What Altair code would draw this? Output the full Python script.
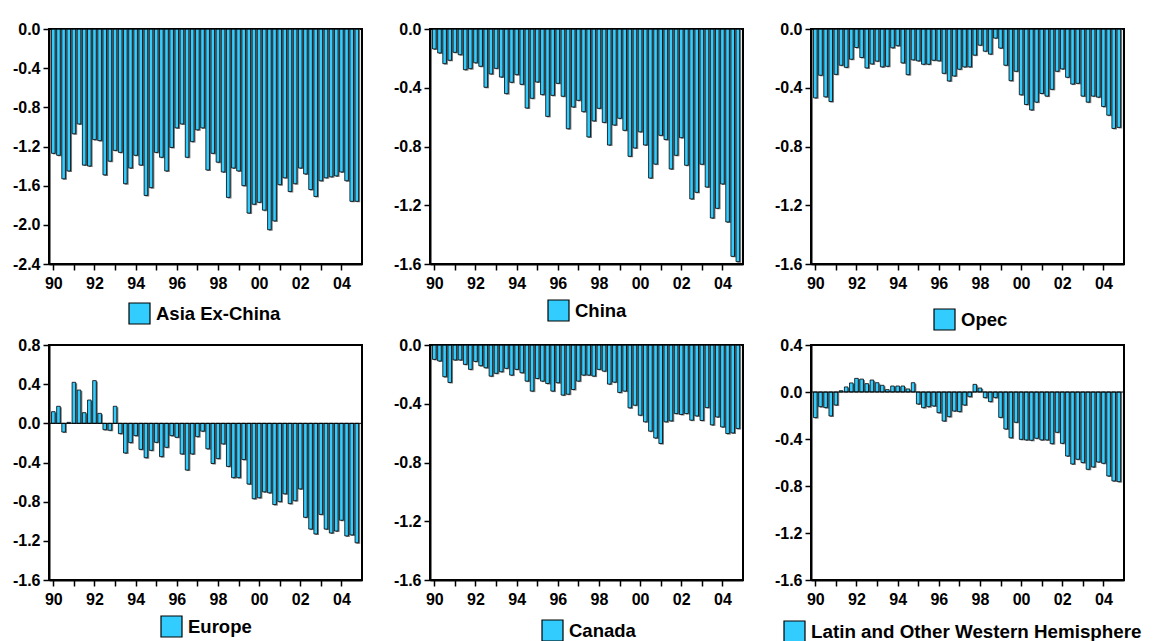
import altair as alt
import pandas as pd

# ---------------- data (quarterly, 1990Q1 .. 2004Q4) ----------------
YEARS = list(range(1990, 2005))
QUARTER_POS = [year + q / 4 for year in YEARS for q in range(4)]
X_DOMAIN = [1989.79, 2005.0]

ASIA_EX_CHINA = [
    -1.27, -1.29, -1.53, -1.45, -1.07, -0.97, -1.39, -1.40, -1.13, -1.14,
    -1.49, -1.35, -1.24, -1.26, -1.58, -1.42, -1.29, -1.39, -1.70, -1.62,
    -1.26, -1.31, -1.45, -1.21, -1.01, -0.97, -1.31, -1.15, -1.03, -1.01,
    -1.44, -1.27, -1.36, -1.46, -1.72, -1.42, -1.45, -1.60, -1.88, -1.79,
    -1.77, -1.85, -2.05, -1.96, -1.59, -1.52, -1.66, -1.58, -1.42, -1.48,
    -1.64, -1.71, -1.55, -1.52, -1.51, -1.50, -1.46, -1.55, -1.76, -1.76,
]
CHINA = [
    -0.136, -0.163, -0.236, -0.213, -0.159, -0.175, -0.277, -0.270, -0.230, -0.254,
    -0.397, -0.306, -0.268, -0.327, -0.440, -0.363, -0.311, -0.377, -0.538, -0.472,
    -0.361, -0.447, -0.595, -0.452, -0.370, -0.458, -0.679, -0.531, -0.486, -0.563,
    -0.735, -0.626, -0.540, -0.636, -0.790, -0.654, -0.608, -0.690, -0.867, -0.810,
    -0.700, -0.790, -1.015, -0.920, -0.724, -0.753, -0.953, -0.860, -0.740, -0.928,
    -1.157, -1.112, -0.921, -1.076, -1.287, -1.221, -1.055, -1.314, -1.548, -1.584,
]
OPEC = [
    -0.469, -0.315, -0.462, -0.494, -0.309, -0.247, -0.261, -0.206, -0.126, -0.194,
    -0.265, -0.238, -0.219, -0.258, -0.254, -0.128, -0.114, -0.231, -0.311, -0.210,
    -0.217, -0.240, -0.240, -0.213, -0.217, -0.302, -0.354, -0.320, -0.274, -0.258,
    -0.258, -0.178, -0.110, -0.151, -0.171, -0.062, -0.130, -0.247, -0.352, -0.288,
    -0.448, -0.514, -0.551, -0.498, -0.439, -0.457, -0.411, -0.288, -0.272, -0.329,
    -0.375, -0.370, -0.457, -0.498, -0.457, -0.464, -0.528, -0.587, -0.677, -0.670,
]
EUROPE = [
    0.119, 0.174, -0.089, 0.010, 0.419, 0.340, 0.109, 0.238, 0.436, 0.102,
    -0.065, -0.071, 0.174, -0.105, -0.303, -0.197, -0.126, -0.266, -0.351, -0.276,
    -0.194, -0.340, -0.245, -0.126, -0.143, -0.313, -0.477, -0.313, -0.136, -0.080,
    -0.260, -0.410, -0.360, -0.210, -0.440, -0.555, -0.555, -0.370, -0.620, -0.770,
    -0.760, -0.700, -0.710, -0.830, -0.800, -0.720, -0.820, -0.790, -0.670, -0.960,
    -1.080, -1.130, -0.930, -1.080, -1.120, -1.100, -0.990, -1.150, -1.140, -1.220,
]
CANADA = [
    -0.098, -0.109, -0.216, -0.255, -0.102, -0.102, -0.132, -0.166, -0.112, -0.141,
    -0.155, -0.212, -0.193, -0.182, -0.159, -0.205, -0.166, -0.189, -0.246, -0.314,
    -0.228, -0.246, -0.262, -0.314, -0.257, -0.341, -0.335, -0.303, -0.246, -0.205,
    -0.205, -0.212, -0.166, -0.178, -0.266, -0.253, -0.323, -0.314, -0.428, -0.410,
    -0.478, -0.523, -0.587, -0.633, -0.671, -0.523, -0.517, -0.467, -0.473, -0.467,
    -0.512, -0.483, -0.514, -0.426, -0.544, -0.490, -0.558, -0.603, -0.599, -0.569,
]
LATIN_OTHER_WH = [
    -0.218, -0.125, -0.133, -0.204, -0.111, 0.011, 0.043, 0.077, 0.116, 0.110,
    0.071, 0.102, 0.079, 0.057, 0.020, 0.051, 0.051, 0.051, 0.026, 0.079,
    -0.102, -0.133, -0.125, -0.119, -0.176, -0.247, -0.210, -0.162, -0.167, -0.111,
    -0.040, 0.065, 0.034, -0.048, -0.082, -0.048, -0.216, -0.315, -0.390, -0.258,
    -0.403, -0.408, -0.411, -0.394, -0.408, -0.408, -0.440, -0.343, -0.437, -0.545,
    -0.613, -0.573, -0.601, -0.658, -0.638, -0.596, -0.607, -0.715, -0.757, -0.763,
]

NAMES = ["Asia Ex-China", "China", "Opec", "Europe", "Canada",
         "Latin and Other Western Hemisphere"]
SERIES = [ASIA_EX_CHINA, CHINA, OPEC, EUROPE, CANADA, LATIN_OTHER_WH]
Y_DOMAINS = [[-2.4, 0.0], [-1.6, 0.0], [-1.6, 0.0],
             [-1.6, 0.8], [-1.6, 0.0], [-1.6, 0.4]]
Y_TICKS = [
    [-2.4, -2.0, -1.6, -1.2, -0.8, -0.4, 0.0],
    [-1.6, -1.2, -0.8, -0.4, 0.0],
    [-1.6, -1.2, -0.8, -0.4, 0.0],
    [-1.6, -1.2, -0.8, -0.4, 0.0, 0.4, 0.8],
    [-1.6, -1.2, -0.8, -0.4, 0.0],
    [-1.6, -1.2, -0.8, -0.4, 0.0, 0.4],
]
# legend placement (pixels, relative to each panel's plot area) and label size
LEGEND_XY = [(79, 273), (117, 270), (122, 279), (111, 270), (111, 274), (-28, 275)]
LEGEND_FONT_SIZE = [18.5, 18.5, 18.5, 18.5, 18.5, 18.8]

# ---------------- styling ----------------
CYAN = "#33CCFF"
SHADOW = "#7A7A7A"
FONT = "Liberation Sans"
PANEL_W, PANEL_H = 313, 235

X_LABEL_EXPR = "datum.value % 2 == 0 ? substring(toString(datum.value), 2, 4) : ''"
Y_LABEL_EXPR = "(datum.value < -0.00001 ? '-' : '') + format(abs(datum.value), '.1f')"


def make_panel(name, values, ydom, yticks, lxy, lfs):
    df = pd.DataFrame({"t": QUARTER_POS, "v": values, "series": name})
    zero_df = pd.DataFrame({"z": [0.0]})
    x = alt.X(
        "t:Q",
        scale=alt.Scale(domain=X_DOMAIN, nice=False, zero=False, padding=0),
        axis=alt.Axis(
            values=YEARS, tickCount=100, labelExpr=X_LABEL_EXPR,
            title=None, tickSize=6, labelPadding=5, labelFlush=False,
            labelOverlap=False, grid=False,
        ),
    )
    y = alt.Y(
        "v:Q",
        scale=alt.Scale(domain=ydom, nice=False, zero=False, padding=0),
        axis=alt.Axis(values=yticks, tickCount=100, labelExpr=Y_LABEL_EXPR,
                      title=None, tickSize=6, labelPadding=3, grid=False,
                      labelOverlap=False, labelFlush=False),
    )
    base = alt.Chart(df)
    shadow = base.mark_bar(color=SHADOW, size=3.8, xOffset=1.4, yOffset=1.0,
                           orient="vertical").encode(x=x, y=y, y2=alt.datum(0))
    bars = base.mark_bar(size=3.6, stroke="black", strokeWidth=0.8,
                         orient="vertical").encode(
        x=x, y=y, y2=alt.datum(0),
        color=alt.Color(
            "series:N",
            scale=alt.Scale(range=[CYAN]),
            legend=alt.Legend(
                orient="none", legendX=lxy[0], legendY=lxy[1], title=None,
                symbolType="square", symbolSize=441, symbolStrokeColor="black",
                symbolStrokeWidth=1.2, symbolFillColor=CYAN,
                labelFont=FONT, labelFontSize=lfs, labelFontWeight="bold",
                labelColor="black", labelOffset=5, labelLimit=600, padding=0,
                symbolOffset=0, direction="vertical",
            ),
        ),
    )
    zero = alt.Chart(zero_df).mark_rule(color="black", strokeWidth=1).encode(
        y=alt.Y("z:Q")
    )
    return alt.layer(shadow, bars, zero).properties(width=PANEL_W, height=PANEL_H)


panels = [make_panel(n, s, d, t, l, f)
          for n, s, d, t, l, f in zip(NAMES, SERIES, Y_DOMAINS, Y_TICKS,
                                      LEGEND_XY, LEGEND_FONT_SIZE)]

chart = (
    alt.concat(*panels, columns=3, spacing={"row": 81, "column": 68}, bounds="flush")
    .resolve_scale(color="independent")
    .resolve_legend(color="independent")
    .properties(
        autosize=alt.AutoSizeParams(type="none"),
        padding={"left": 41, "top": 21, "right": 1098, "bottom": 612},
        background="white",
    )
    .configure_view(stroke="black", strokeWidth=2)
    .configure_axis(domainColor="black", domainWidth=2, tickColor="black",
                    tickWidth=1.5, labelFont=FONT, labelFontSize=16,
                    labelFontWeight="bold", labelColor="black")
)

chart.save("out.html", embed_options={"renderer": "svg", "actions": False})
